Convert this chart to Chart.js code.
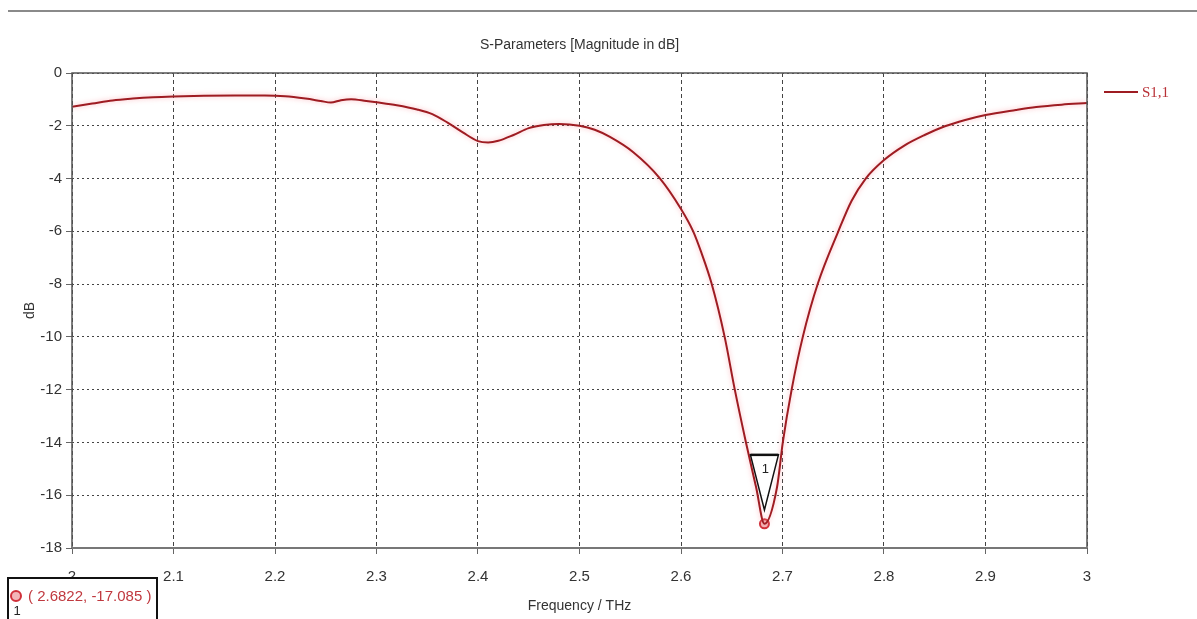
<!DOCTYPE html>
<html>
<head>
<meta charset="utf-8">
<title>S-Parameters [Magnitude in dB]</title>
<script src="https://cdn.jsdelivr.net/npm/chart.js@4.4.0/dist/chart.umd.min.js"></script>
<style>
  body { margin: 0; background: #fff; }
  canvas { display: block; }
</style>
</head>
<body>
<canvas id="sChart" width="1197" height="619"></canvas>
<script>
// S1,1 magnitude in dB
const freqTHz = [2.00, 2.02, 2.04, 2.06, 2.08, 2.10, 2.13, 2.16, 2.19, 2.21, 2.23, 2.245, 2.255, 2.265, 2.275,
  2.29, 2.30, 2.32, 2.34, 2.355, 2.37, 2.385, 2.40, 2.41, 2.42, 2.435, 2.45, 2.465, 2.48, 2.50, 2.515, 2.53,
  2.553, 2.579, 2.60, 2.612, 2.62, 2.63, 2.643, 2.653, 2.664, 2.674, 2.6822, 2.6946, 2.7003, 2.709, 2.72, 2.735,
  2.755, 2.768, 2.782, 2.80, 2.82, 2.84, 2.86, 2.88, 2.90, 2.93, 2.95, 2.975, 3.00];
const s11dB = [-1.28, -1.16, -1.04, -0.97, -0.92, -0.89, -0.86, -0.85, -0.85, -0.88, -0.97, -1.06, -1.12, -1.03, -0.99,
  -1.06, -1.11, -1.22, -1.38, -1.56, -1.88, -2.25, -2.58, -2.63, -2.57, -2.35, -2.09, -1.97, -1.93, -2.0, -2.15, -2.42,
  -3.0, -3.98, -5.15, -6.0, -6.8, -7.96, -10.0, -12.0, -14.0, -15.7, -17.085, -15.7, -14.0, -12.0, -10.0, -7.96,
  -6.0, -4.85, -4.0, -3.3, -2.75, -2.35, -2.02, -1.78, -1.59, -1.4, -1.29, -1.2, -1.14];

// marker 1
const markerFreq = [2.6822];
const markerDB = [-17.085];
const markerText = '( 2.6822, -17.085 )';

const xTicks = [2, 2.1, 2.2, 2.3, 2.4, 2.5, 2.6, 2.7, 2.8, 2.9, 3];
const xTickLabels = ['2', '2.1', '2.2', '2.3', '2.4', '2.5', '2.6', '2.7', '2.8', '2.9', '3'];
const yTicks = [0, -2, -4, -6, -8, -10, -12, -14, -16, -18];
const yTickLabels = ['0', '-2', '-4', '-6', '-8', '-10', '-12', '-14', '-16', '-18'];

const lineColor = '#9e1c22';
const textColor = '#333';
const font = '"Liberation Sans", Arial, sans-serif';

// soft pink halo under the curve, like the original screenshot
const halo = {
  id: 'halo',
  beforeDatasetDraw(chart, args) {
    if (args.index !== 0) return;
    chart.ctx.save();
    chart.ctx.shadowColor = 'rgba(250, 130, 140, 0.6)';
    chart.ctx.shadowBlur = 5;
  },
  afterDatasetDraw(chart, args) {
    if (args.index === 0) chart.ctx.restore();
  }
};

// frame, titles, legend and the marker annotations
const extras = {
  id: 'extras',
  afterDraw(chart) {
    const { ctx, chartArea: a, scales: { x, y } } = chart;
    ctx.save();

    // gray rule at the very top
    ctx.fillStyle = '#8a8a8a';
    ctx.fillRect(8, 10, 1189, 2);

    // plot frame
    ctx.strokeStyle = '#555';
    ctx.lineWidth = 1.5;
    ctx.strokeRect(a.left, a.top, a.right - a.left, a.bottom - a.top);
    ctx.fillStyle = '#777';
    ctx.fillRect(a.left, a.bottom - 1, a.right - a.left, 2);

    // title and axis titles
    ctx.fillStyle = textColor;
    ctx.textBaseline = 'middle';
    ctx.textAlign = 'center';
    ctx.font = '14px ' + font;
    ctx.fillText('S-Parameters [Magnitude in dB]', (a.left + a.right) / 2, 45);
    ctx.fillText('Frequency / THz', (a.left + a.right) / 2, 606);
    ctx.save();
    ctx.translate(30, (a.top + a.bottom) / 2);
    ctx.rotate(-Math.PI / 2);
    ctx.fillText('dB', 0, 0);
    ctx.restore();

    // legend
    ctx.strokeStyle = lineColor;
    ctx.lineWidth = 2;
    ctx.beginPath();
    ctx.moveTo(1104, 92);
    ctx.lineTo(1138, 92);
    ctx.stroke();
    ctx.fillStyle = '#b83036';
    ctx.textAlign = 'left';
    ctx.font = '15px "Liberation Serif", serif';
    ctx.fillText('S1,1', 1142, 93);

    // triangle marker "1" above the minimum
    const px = x.getPixelForValue(markerFreq[0]);
    const py = y.getPixelForValue(markerDB[0]);
    ctx.beginPath();
    ctx.moveTo(px - 14, py - 69);
    ctx.lineTo(px + 14, py - 69);
    ctx.lineTo(px, py - 14);
    ctx.closePath();
    ctx.fillStyle = 'rgba(255,255,255,0.9)';
    ctx.fill();
    ctx.strokeStyle = '#111';
    ctx.lineWidth = 1.5;
    ctx.stroke();
    ctx.lineWidth = 2.5;
    ctx.beginPath();
    ctx.moveTo(px - 14, py - 69);
    ctx.lineTo(px + 14, py - 69);
    ctx.stroke();
    ctx.fillStyle = '#222';
    ctx.textAlign = 'center';
    ctx.font = '13px ' + font;
    ctx.fillText('1', px + 1, py - 54);

    // marker readout box, bottom left
    ctx.fillStyle = '#fff';
    ctx.fillRect(8, 578, 149, 50);
    ctx.strokeStyle = '#111';
    ctx.lineWidth = 2;
    ctx.strokeRect(8, 578, 149, 50);
    ctx.beginPath();
    ctx.arc(16, 596, 5, 0, Math.PI * 2);
    ctx.fillStyle = '#f3b5b8';
    ctx.fill();
    ctx.strokeStyle = '#d0303a';
    ctx.stroke();
    ctx.fillStyle = '#222';
    ctx.font = '13px ' + font;
    ctx.fillText('1', 17, 611);
    ctx.fillStyle = '#c0393f';
    ctx.textAlign = 'left';
    ctx.font = '15px ' + font;
    ctx.fillText(markerText, 28, 597);

    ctx.restore();
  }
};

const ctx = document.getElementById('sChart').getContext('2d');
new Chart(ctx, {
  type: 'line',
  data: {
    datasets: [
      {
        label: 'S1,1',
        data: freqTHz.map((f, i) => ({ x: f, y: s11dB[i] })),
        borderColor: lineColor,
        borderWidth: 2,
        pointRadius: 0,
        cubicInterpolationMode: 'monotone',
        fill: false
      },
      {
        label: 'marker 1',
        data: markerFreq.map((f, i) => ({ x: f, y: markerDB[i] })),
        showLine: false,
        pointRadius: 4.5,
        pointBorderWidth: 2,
        pointBorderColor: '#d0303a',
        pointBackgroundColor: '#f3b5b8'
      }
    ]
  },
  options: {
    responsive: false,
    animation: false,
    layout: { padding: { left: 0, right: 110, top: 73, bottom: 0 } },
    plugins: {
      legend: { display: false },
      title: { display: false },
      tooltip: { enabled: false }
    },
    scales: {
      x: {
        type: 'linear',
        min: 2,
        max: 3,
        afterBuildTicks: axis => { axis.ticks = xTicks.map(v => ({ value: v })); },
        afterFit: axis => { axis.height = 71; },
        grid: { color: '#444', lineWidth: 1, tickLength: 6, tickColor: '#666', tickBorderDash: [] },
        border: { display: false, dash: [4, 3] },
        ticks: {
          padding: 14,
          color: textColor,
          font: { family: font, size: 15 },
          maxRotation: 0,
          callback: (v, i) => xTickLabels[i]
        }
      },
      y: {
        min: -18,
        max: 0,
        afterBuildTicks: axis => { axis.ticks = yTicks.map(v => ({ value: v })); },
        afterFit: axis => { axis.width = 72; },
        grid: { color: '#444', lineWidth: 1, tickLength: 6, tickColor: '#666', tickBorderDash: [] },
        border: { display: false, dash: [2, 3] },
        ticks: {
          padding: 4,
          color: textColor,
          font: { family: font, size: 15 },
          callback: (v, i) => yTickLabels[i]
        }
      }
    }
  },
  plugins: [halo, extras]
});
</script>
</body>
</html>
